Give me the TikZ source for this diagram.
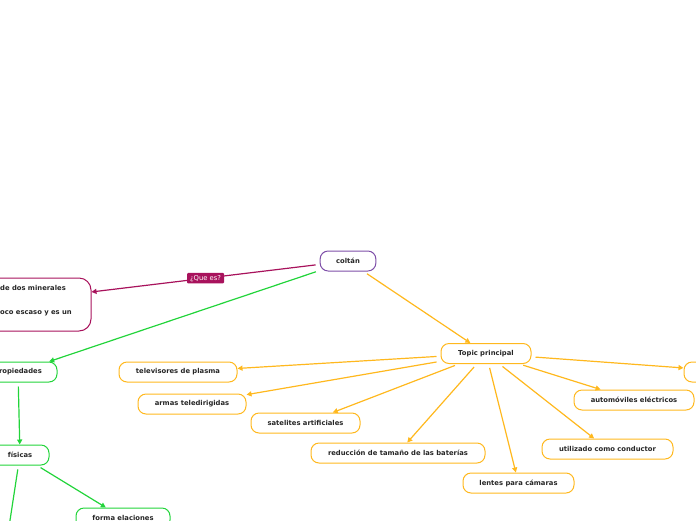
\documentclass[tikz,border=0pt]{standalone}
\usepackage{fontspec}
\setmainfont{DejaVu Sans}
\usetikzlibrary{arrows.meta, positioning}

\definecolor{mapOrange}{RGB}{255,184,30}
\definecolor{mapGreen}{RGB}{34,212,58}
\definecolor{mapMagenta}{RGB}{168,18,92}
\definecolor{mapPurple}{RGB}{126,78,168}

\tikzset{
  topic/.style={draw, rounded corners=8pt, line width=1pt, minimum height=20pt,
    inner xsep=16pt, font=\fontsize{6.8}{8}\selectfont\bfseries, text=black!85},
  plain/.style={font=\fontsize{6.8}{8}\selectfont\bfseries, text=black!85, inner sep=0pt},
  link/.style={line width=1.2pt, -{Triangle[length=5pt,width=5pt]}, shorten <=4pt},
  tag/.style={fill=mapMagenta, text=white, rounded corners=1pt, inner xsep=3pt,
    inner ysep=2pt, font=\fontsize{6.8}{8}\selectfont},
}

\begin{document}
\begin{tikzpicture}[x=1pt, y=-1pt]
  \useasboundingbox (0,0) rectangle (696,520);

  % central topic
  \node[topic, draw=mapPurple] (coltan) at (348,261) {coltán};

  % definition (cut by the page)
  \node[topic, draw=mapMagenta, rounded corners=12pt, minimum width=208pt,
    minimum height=53pt] (definicion) at (-13,304.5) {};
  \node[plain, anchor=west] (defA) at (0,288) {de dos minerales};
  \node[plain, anchor=west] (defB) at (0,313) {oco escaso y es un};

  % green branch
  \node[topic, draw=mapGreen, minimum width=78pt, inner xsep=6pt] (propiedades) at (18,372) {propiedades};
  \node[topic, draw=mapGreen, minimum width=58pt] (fisicas) at (20,455) {físicas};
  \node[topic, draw=mapGreen, minimum width=94pt] (elaciones) at (123,518) {forma elaciones};
  \coordinate (fisicasOut) at (7,540);

  % orange branch
  \node[topic, draw=mapOrange, minimum width=90pt] (principal) at (486,353.5) {Topic principal};
  \node[topic, draw=mapOrange, minimum width=118pt] (televisores) at (178,372) {televisores de plasma};
  \node[topic, draw=mapOrange, minimum width=108pt] (armas) at (192,404) {armas teledirigidas};
  \node[topic, draw=mapOrange, minimum width=109pt] (satelites) at (305.5,423) {satelites artificiales};
  \node[topic, draw=mapOrange, minimum width=174pt] (baterias) at (398,453) {reducción de tamaño de las baterías};
  \node[topic, draw=mapOrange, minimum width=111pt] (lentes) at (518.5,483) {lentes para cámaras};
  \node[topic, draw=mapOrange, minimum width=131pt] (conductor) at (607.5,449) {utilizado como conductor};
  \node[topic, draw=mapOrange, minimum width=120pt] (automoviles) at (634,400) {automóviles eléctricos};
  \node[topic, draw=mapOrange, minimum width=110pt] (otro) at (739,372) {};

  % connectors
  \draw[link, mapMagenta] (coltan) -- node[tag, pos=0.5] (queEs) {¿Que es?} (definicion);
  \draw[link, mapGreen] (coltan) -- (propiedades);
  \draw[link, mapGreen] (propiedades) -- (fisicas);
  \draw[link, mapGreen] (fisicas) -- (elaciones);
  \draw[link, mapGreen, -] (fisicas) -- (fisicasOut);
  \draw[link, mapOrange] (coltan) -- (principal);
  \foreach \leaf in {televisores, armas, satelites, baterias, lentes, conductor, automoviles, otro}
    \draw[link, mapOrange] (principal) -- (\leaf);
\end{tikzpicture}
\end{document}
